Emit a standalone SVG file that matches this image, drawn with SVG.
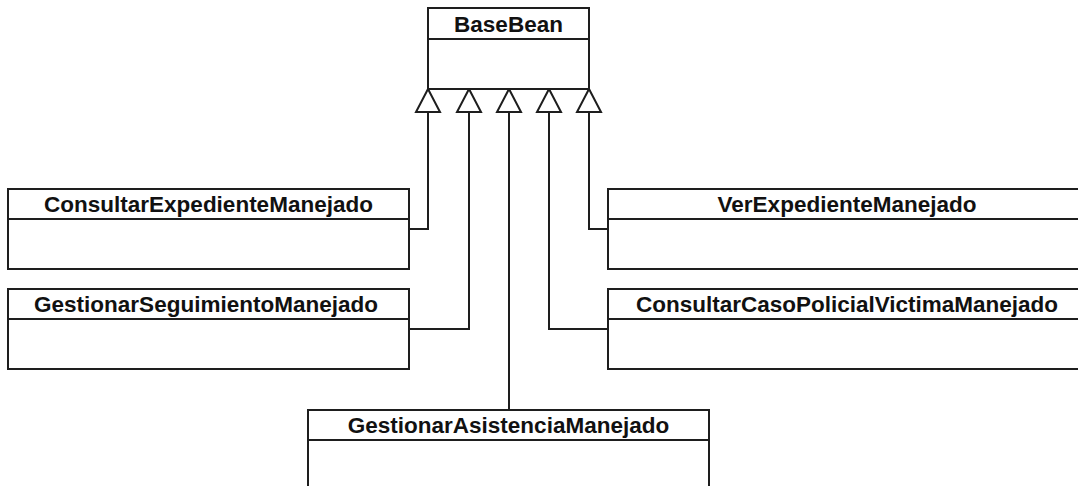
<svg xmlns="http://www.w3.org/2000/svg" width="1078" height="486" viewBox="0 0 1078 486">
  <style>
    .box { fill: #ffffff; stroke: #1e1e1e; stroke-width: 2; }
    .sep { stroke: #1e1e1e; stroke-width: 2; }
    .name { font-family: "Liberation Sans", Arial, sans-serif; font-weight: bold; font-size: 22.5px; fill: #111; text-anchor: middle; }
    .gen { fill: none; stroke: #1e1e1e; stroke-width: 2; marker-end: url(#inherit); }
  </style>
  <defs>
    <!-- hollow generalization arrowhead -->
    <marker id="inherit" markerUnits="userSpaceOnUse" markerWidth="28" markerHeight="28" viewBox="-25 -14 28 28" refX="0" refY="0" orient="auto">
      <path d="M0,0 L-23,-12 L-23,12 Z" fill="#ffffff" stroke="#1e1e1e" stroke-width="2" stroke-linejoin="miter"/>
    </marker>
  </defs>
  <rect width="1078" height="486" fill="#ffffff"/>

  <g id="connectors">
    <path class="gen" d="M409,229 H428 V89"/>
    <path class="gen" d="M409,329 H469 V89"/>
    <path class="gen" d="M509,410 V89"/>
    <path class="gen" d="M608,329 H549 V89"/>
    <path class="gen" d="M608,229 H589 V89"/>
  </g>

  <g id="BaseBean">
    <rect class="box" x="428" y="8" width="161" height="81"/>
    <line class="sep" x1="428" y1="39" x2="589" y2="39"/>
    <text class="name" x="508.5" y="32">BaseBean</text>
  </g>

  <g id="ConsultarExpedienteManejado">
    <rect class="box" x="8" y="189" width="401" height="80"/>
    <line class="sep" x1="8" y1="219" x2="409" y2="219"/>
    <text class="name" x="208.5" y="212">ConsultarExpedienteManejado</text>
  </g>

  <g id="GestionarSeguimientoManejado">
    <rect class="box" x="8" y="289" width="401" height="80"/>
    <line class="sep" x1="8" y1="319" x2="409" y2="319"/>
    <text class="name" x="206" y="312">GestionarSeguimientoManejado</text>
  </g>

  <g id="VerExpedienteManejado">
    <rect class="box" x="608" y="189" width="478" height="80"/>
    <line class="sep" x1="608" y1="219" x2="1086" y2="219"/>
    <text class="name" x="847" y="212">VerExpedienteManejado</text>
  </g>

  <g id="ConsultarCasoPolicialVictimaManejado">
    <rect class="box" x="608" y="289" width="478" height="80"/>
    <line class="sep" x1="608" y1="319" x2="1086" y2="319"/>
    <text class="name" x="847" y="312">ConsultarCasoPolicialVictimaManejado</text>
  </g>

  <g id="GestionarAsistenciaManejado">
    <rect class="box" x="308" y="410" width="401" height="90"/>
    <line class="sep" x1="308" y1="440" x2="709" y2="440"/>
    <text class="name" x="508.5" y="433">GestionarAsistenciaManejado</text>
  </g>
</svg>
